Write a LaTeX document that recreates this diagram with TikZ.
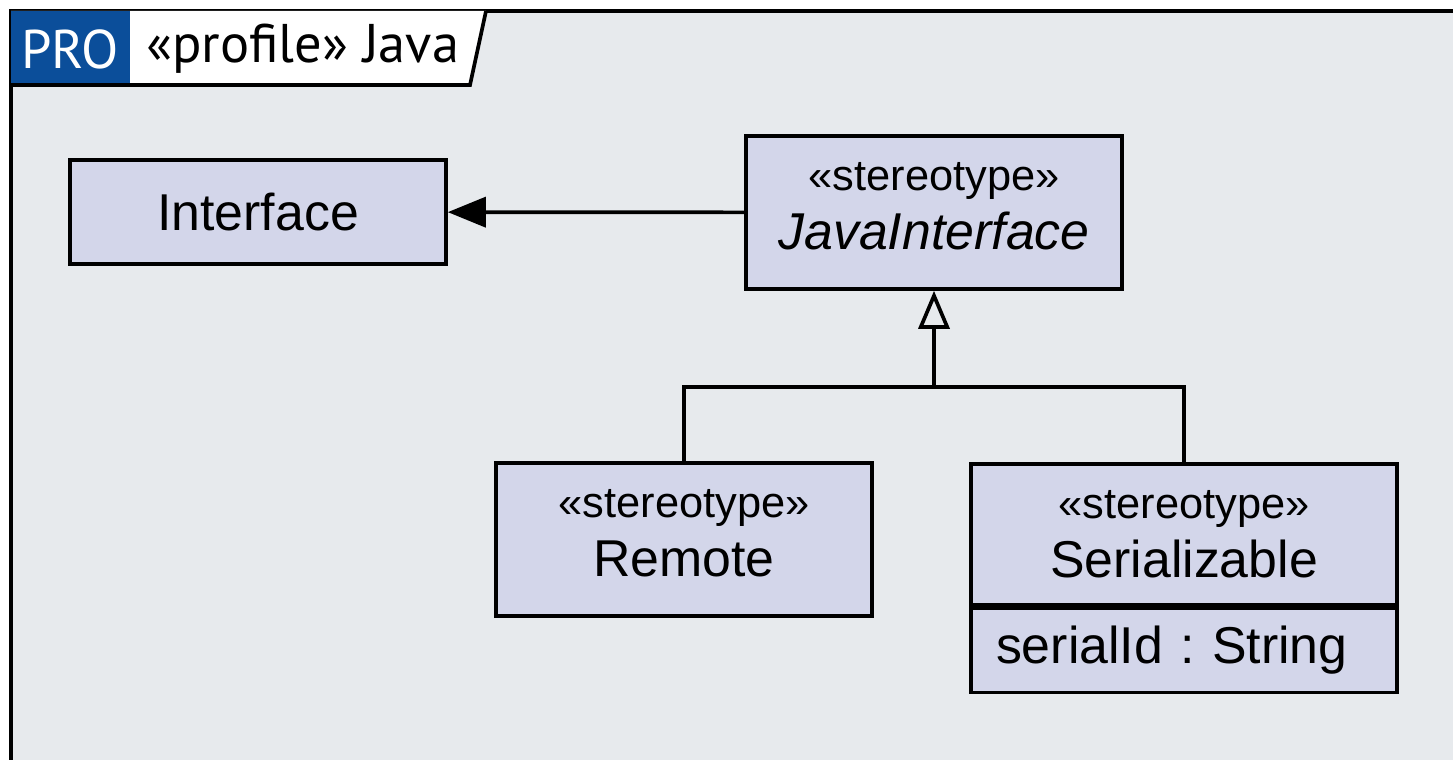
\documentclass[tikz,border=0pt]{standalone}
\usepackage{fontspec}
\setmainfont{Liberation Sans}
\newfontfamily\tabfont{PT Sans}
\usetikzlibrary{arrows.meta, positioning}
\definecolor{framebg}{HTML}{E7EAED}
\definecolor{boxfill}{HTML}{D3D6EA}
\definecolor{problue}{HTML}{0B4E9A}
\newcommand{\stereoline}{{\fontsize{24.7}{30}\selectfont «stereotype»}}
\newcommand{\lowstrut}{\rule[-7pt]{0pt}{7pt}}

\begin{document}
\begin{tikzpicture}[
  x=0.02cm, y=-0.02cm,
  % class box styles
  classbox/.style={
    rectangle, draw=black, line width=2.1pt, fill=boxfill,
    align=center, inner sep=0pt, minimum width=7.52cm,
    font=\fontsize{29.5}{33.5}\selectfont
  },
  attrbox/.style={
    rectangle, draw=black, line width=2.1pt, fill=boxfill,
    align=left, inner sep=0pt, inner xsep=0.5cm, minimum width=8.52cm,
    minimum height=1.68cm, text width=7.52cm,
    font=\fontsize{29.5}{33}\selectfont
  },
  tabtext/.style={font=\tabfont\fontsize{31}{35}\selectfont, inner sep=0pt},
  assoc/.style={line width=2.1pt, -{Triangle[length=0.76cm, width=0.6cm]}},
  gen/.style={line width=2.1pt, -{Triangle[open, length=0.76cm, width=0.62cm]}},
  link/.style={line width=2.1pt}
]
\useasboundingbox (0,0) rectangle (1453,760);
\clip (0,0) rectangle (1453,760);

% Frame
\fill[white] (0,0) rectangle (1453,760);
\fill[framebg] (11,11) rectangle (1480,790);
\draw[line width=2.4pt] (1480,11) -- (11,11) -- (11,790);

% Profile tab
\fill[white] (11,11) -- (486,11) -- (470,85) -- (11,85) -- cycle;
\fill[problue] (11,11) rectangle (130,85);
\draw[line width=2.1pt] (11,85) -- (470,85) -- (486,11);
\node[tabtext, text=white] (protag) at (70,49) {PRO};
\node[tabtext, anchor=west] (proname) at (146,49) {«profile» Java};

% Classes
\node[classbox, minimum height=2.08cm] (iface) at (258,212) {Interface};
\node[classbox, minimum height=3.06cm] (javaif) at (934,212.5)
  {\stereoline\\\textit{JavaInterface}\lowstrut};
\node[classbox, minimum height=3.06cm] (remote) at (684,539.5)
  {\stereoline\\Remote\lowstrut};
\node[classbox, minimum width=8.52cm, minimum height=2.82cm, anchor=north] (serial) at (1184,462)
  {\stereoline\\Serializable};
\node[attrbox, below=0pt of serial] (serattr) {serialId :\ String};

% Connectors
\draw[assoc] (javaif) -- (iface);
\coordinate (bus) at (934,387);
\draw[gen] (bus) -- (javaif);
\draw[link] (remote.north) |- (bus) -| (serial.north);

\end{tikzpicture}
\end{document}
